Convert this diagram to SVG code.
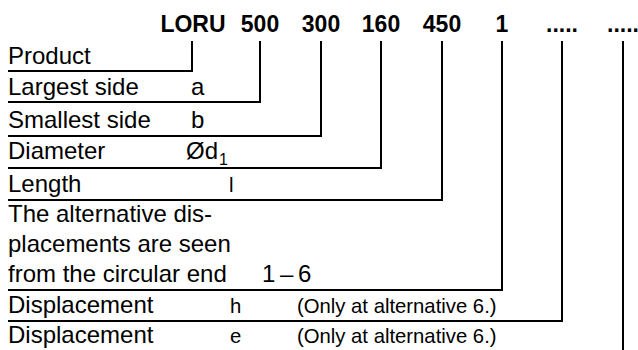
<svg xmlns="http://www.w3.org/2000/svg" width="638" height="350" viewBox="0 0 638 350">
<style>
text{font-family:"Liberation Sans",Arial,Helvetica,sans-serif;fill:#000}
.t{font-size:23px;font-weight:bold;text-anchor:middle}
.l{font-size:24px}
.s{font-size:20.3px}
.c{fill:none;stroke:#000;stroke-width:2}
</style>
<rect width="638" height="350" fill="#fff"/>
<g id="code">
<text class="t" x="193" y="32">LORU</text>
<text class="t" x="260" y="32">500</text>
<text class="t" x="321" y="32">300</text>
<text class="t" x="381" y="32">160</text>
<text class="t" x="442" y="32">450</text>
<text class="t" x="502" y="32">1</text>
<text class="t" x="562" y="32">.....</text>
<text class="t" x="623" y="32">.....</text>
</g>
<g id="connectors">
<path class="c" d="M192,41V71H8"/>
<path class="c" d="M260,41V102H8"/>
<path class="c" d="M321,41V136H8"/>
<path class="c" d="M381,41V168H8"/>
<path class="c" d="M442,41V200H8"/>
<path class="c" d="M502,41V290H8"/>
<path class="c" d="M562,41V321H8"/>
<path class="c" d="M623,41V350"/>
</g>
<g id="product"><text class="l" x="8" y="64">Product</text></g>
<g id="largest"><text class="l" x="8" y="95">Largest side</text><text class="l" x="191" y="95">a</text></g>
<g id="smallest"><text class="l" x="8" y="128">Smallest side</text><text class="l" x="191" y="128">b</text></g>
<g id="diameter"><text class="l" x="8" y="159">Diameter</text><text class="l" x="186" y="159">Ød<tspan font-size="16" dx="1" dy="6">1</tspan></text></g>
<g id="length"><text class="l" x="8" y="192">Length</text><text class="s" x="229" y="192">l</text></g>
<g id="alternative"><text class="l" x="8" y="222">The alternative dis-</text><text class="l" x="8" y="252">placements are seen</text><text class="l" x="8" y="282">from the circular end</text><text class="l" x="262" y="282" word-spacing="-2">1 – 6</text></g>
<g id="disp-h"><text class="l" x="8" y="313">Displacement</text><text class="s" x="230" y="313">h</text><text class="s" x="297" y="313">(Only at alternative 6.)</text></g>
<g id="disp-e"><text class="l" x="8" y="343">Displacement</text><text class="s" x="230" y="343">e</text><text class="s" x="297" y="343">(Only at alternative 6.)</text></g>
</svg>
